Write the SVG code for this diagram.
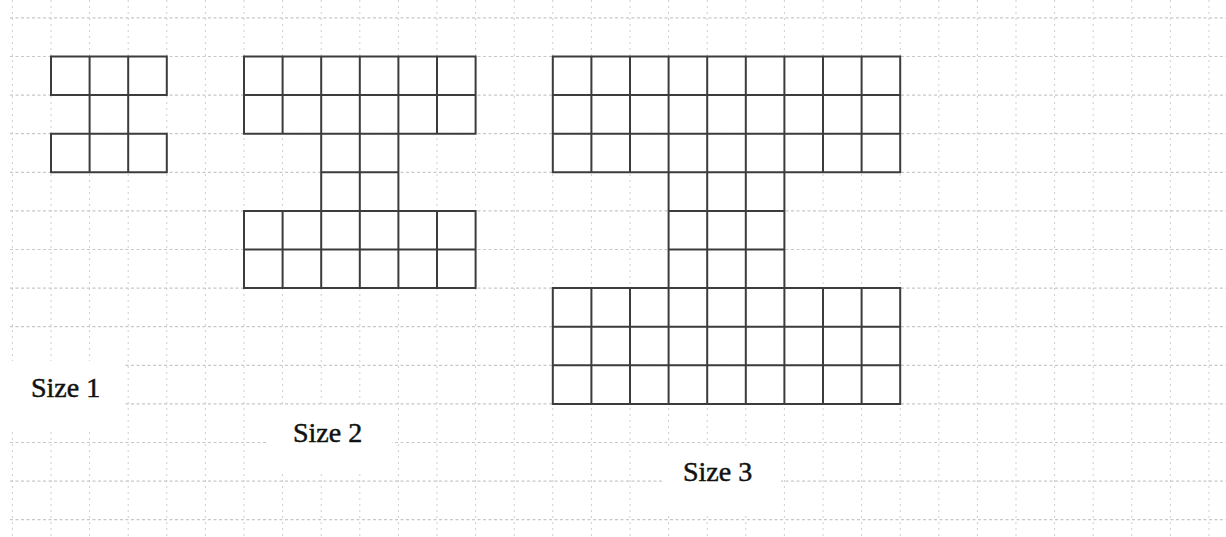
<svg xmlns="http://www.w3.org/2000/svg" width="1226" height="537" viewBox="0 0 1226 537">
  <style>
    .gridv { fill: none; stroke: #cdcdcd; stroke-width: 1; stroke-dasharray: 2 4; }
    .gridh { fill: none; stroke: #c8c8c8; stroke-width: 1.2; stroke-dasharray: 3 2.5; }
    .mask { fill: #ffffff; stroke: none; }
    .cell { fill: none; stroke: #3c3c3c; stroke-width: 2; stroke-linecap: square; }
    .label { font-family: "Liberation Serif", "Times New Roman", serif; font-size: 28px; fill: #111111; stroke: #111111; stroke-width: 0.5; }
  </style>
  <rect width="1226" height="537" fill="#ffffff"/>
  <g id="grid">
    <path class="gridv" d="M12.4 0V537 M51 0V537 M89.6 0V537 M128.2 0V537 M166.8 0V537 M205.4 0V537 M244 0V537 M282.6 0V537 M321.2 0V537 M359.8 0V537 M398.4 0V537 M437 0V537 M475.6 0V537 M514.2 0V537 M552.8 0V537 M591.4 0V537 M630 0V537 M668.6 0V537 M707.2 0V537 M745.8 0V537 M784.4 0V537 M823 0V537 M861.6 0V537 M900.2 0V537 M938.8 0V537 M977.4 0V537 M1016 0V537 M1054.6 0V537 M1093.2 0V537 M1131.8 0V537 M1170.4 0V537 M1209 0V537"/>
    <path class="gridh" d="M10 17.9H1226 M10 56.5H1226 M10 95.1H1226 M10 133.7H1226 M10 172.3H1226 M10 210.9H1226 M10 249.5H1226 M10 288.1H1226 M10 326.7H1226 M10 365.3H1226 M10 403.9H1226 M10 442.5H1226 M10 481.1H1226 M10 519.7H1226"/>
    <rect class="mask" x="0" y="361" width="124" height="68"/>
    <rect class="mask" x="266" y="406" width="126" height="66"/>
    <rect class="mask" x="662" y="446" width="119" height="66"/>
  </g>
  <g id="size1">
    <path class="cell" d="M51 56.5H166.8V95.1H51Z M89.6 56.5V172.3 M128.2 56.5V172.3 M51 133.7H166.8V172.3H51Z"/>
    <text class="label" x="31" y="397">Size 1</text>
  </g>
  <g id="size2">
    <path class="cell" d="M244 56.5H475.6V133.7H244Z M244 95.1H475.6 M282.6 56.5V133.7 M321.2 56.5V288.1 M359.8 56.5V288.1 M398.4 56.5V288.1 M437 56.5V133.7 M321.2 172.3H398.4 M244 210.9H475.6V288.1H244Z M244 249.5H475.6 M282.6 210.9V288.1 M437 210.9V288.1"/>
    <text class="label" x="293" y="442">Size 2</text>
  </g>
  <g id="size3">
    <path class="cell" d="M552.8 56.5H900.2V172.3H552.8Z M552.8 95.1H900.2 M552.8 133.7H900.2 M591.4 56.5V172.3 M630 56.5V172.3 M668.6 56.5V403.9 M707.2 56.5V403.9 M745.8 56.5V403.9 M784.4 56.5V403.9 M823 56.5V172.3 M861.6 56.5V172.3 M668.6 210.9H784.4 M668.6 249.5H784.4 M552.8 288.1H900.2V403.9H552.8Z M552.8 326.7H900.2 M552.8 365.3H900.2 M591.4 288.1V403.9 M630 288.1V403.9 M823 288.1V403.9 M861.6 288.1V403.9"/>
    <text class="label" x="683" y="481">Size 3</text>
  </g>
</svg>
